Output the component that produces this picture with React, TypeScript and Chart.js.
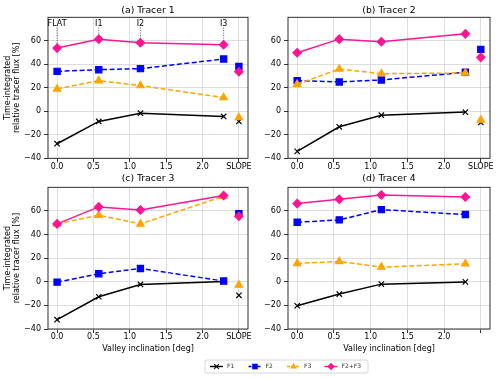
import React, { useEffect, useRef } from 'react';
import { Chart, registerables } from 'chart.js';

Chart.register(...registerables);

const FONT = "'DejaVu Sans', sans-serif";
Chart.defaults.font.family = FONT;
Chart.defaults.color = '#000';

// ---------- data ----------
const POINT_LABELS = ['FLAT', 'I1', 'I2', 'I3'];
const INCLINATIONS = [0, 0.573, 1.146, 2.29];
const SLOPE_POS = 2.5;
const X_TICKS = [0, 0.5, 1, 1.5, 2, 2.5];
const Y_TICKS = [-40, -20, 0, 20, 40, 60];
const SERIES_NAMES = ['F1', 'F2', 'F3', 'F2+F3'];
const PANEL_TITLES = ['(a) Tracer 1', '(b) Tracer 2', '(c) Tracer 3', '(d) Tracer 4'];

// Tracer 1
const T1_F1 = [-27.6, -8.6, -1.6, -4.4];
const T1_F2 = [34.0, 35.4, 36.3, 44.5];
const T1_F3 = [19.0, 26.1, 21.9, 11.7];
const T1_F23 = [53.8, 61.4, 58.3, 56.6];
const T1_SLOPE = [-8.6, 38.2, -5.3, 33.7]; // F1, F2, F3, F2+F3

// Tracer 2
const T2_F1 = [-34.1, -13.2, -3.3, -0.7];
const T2_F2 = [26.1, 25.0, 26.7, 33.2];
const T2_F3 = [23.0, 36.0, 32.0, 32.6];
const T2_F23 = [49.8, 61.4, 59.2, 65.9];
const T2_SLOPE = [-9.5, 52.7, -7.5, 45.9];

// Tracer 3
const T3_F1 = [-32.1, -12.7, -2.3, 0.2];
const T3_F2 = [-0.3, 6.8, 11.3, 0.6];
const T3_F3 = [49.0, 56.3, 49.0, 72.4];
const T3_F23 = [49.0, 63.4, 60.8, 73.0];
const T3_SLOPE = [-11.5, 57.7, -2.8, 55.5];

// Tracer 4
const T4_F1 = [-20.3, -10.4, -2.0, -0.1];
const T4_F2 = [50.4, 52.4, 61.1, 56.9];
const T4_F3 = [15.5, 17.2, 12.4, 15.2];
const T4_F23 = [66.2, 69.9, 73.5, 71.8];
const T4_SLOPE: (number | null)[] = [null, null, null, null];

// ---------- styles ----------
const STYLES = [
  { color: '#000000', dash: [] as number[], point: 'crossRot', radius: 3.8 },
  { color: '#0000ff', dash: [5, 2.5], point: 'rect', radius: 4.4 },
  { color: '#ffa500', dash: [5, 2.5], point: 'triangle', radius: 4.3 },
  { color: '#ff1493', dash: [] as number[], point: 'rectRot', radius: 4.2 },
];

type Area = { l: number; r: number; t: number; b: number };
type Panel = {
  title: string;
  values: number[][];
  slope: (number | null)[];
  area: Area;
  titleY: number;
  yTitle: boolean;
  xTitle: boolean;
  slopeLabel: boolean;
  annotate: boolean;
  legend: boolean;
};

const PANELS: Panel[] = [
  {
    title: PANEL_TITLES[0], values: [T1_F1, T1_F2, T1_F3, T1_F23], slope: T1_SLOPE,
    area: { l: 48, r: 248, t: 17.3, b: 158.3 }, titleY: 10.8,
    yTitle: true, xTitle: false, slopeLabel: true, annotate: true, legend: false,
  },
  {
    title: PANEL_TITLES[1], values: [T2_F1, T2_F2, T2_F3, T2_F23], slope: T2_SLOPE,
    area: { l: 288, r: 490, t: 17.3, b: 158.3 }, titleY: 10.8,
    yTitle: false, xTitle: false, slopeLabel: true, annotate: false, legend: false,
  },
  {
    title: PANEL_TITLES[2], values: [T3_F1, T3_F2, T3_F3, T3_F23], slope: T3_SLOPE,
    area: { l: 48, r: 248, t: 187.3, b: 329 }, titleY: 179,
    yTitle: true, xTitle: true, slopeLabel: true, annotate: false, legend: false,
  },
  {
    title: PANEL_TITLES[3], values: [T4_F1, T4_F2, T4_F3, T4_F23], slope: T4_SLOPE,
    area: { l: 288, r: 490, t: 187.3, b: 329 }, titleY: 179,
    yTitle: false, xTitle: true, slopeLabel: false, annotate: false, legend: true,
  },
];

const ANNOT_TEXT_Y = 74.3; // data units
const ANNOT_LINE_TOP = 71.2; // data units

function drawMarker(ctx: CanvasRenderingContext2D, style: string, x: number, y: number, r: number, color: string) {
  ctx.save();
  ctx.fillStyle = color;
  ctx.strokeStyle = color;
  ctx.lineWidth = 1.1;
  ctx.beginPath();
  if (style === 'crossRot') {
    const d = r * Math.SQRT1_2;
    ctx.moveTo(x - d, y - d); ctx.lineTo(x + d, y + d);
    ctx.moveTo(x - d, y + d); ctx.lineTo(x + d, y - d);
    ctx.stroke();
  } else if (style === 'rect') {
    const s = r * Math.SQRT1_2;
    ctx.rect(x - s, y - s, 2 * s, 2 * s);
    ctx.fill();
  } else if (style === 'triangle') {
    ctx.moveTo(x, y - r);
    ctx.lineTo(x + r * Math.sin(2 * Math.PI / 3), y - r * Math.cos(2 * Math.PI / 3));
    ctx.lineTo(x + r * Math.sin(4 * Math.PI / 3), y - r * Math.cos(4 * Math.PI / 3));
    ctx.closePath();
    ctx.fill();
  } else {
    ctx.moveTo(x - r, y); ctx.lineTo(x, y - r); ctx.lineTo(x + r, y); ctx.lineTo(x, y + r);
    ctx.closePath();
    ctx.fill();
  }
  ctx.restore();
}

function makeConfig(p: Panel): any {
  const datasets: any[] = [];
  STYLES.forEach((s, k) => {
    const common = {
      borderColor: s.color,
      backgroundColor: s.color,
      pointStyle: s.point,
      pointRadius: s.radius,
      pointBorderWidth: 1.2,
      pointBackgroundColor: s.color,
      pointBorderColor: s.color,
      order: 3 - k,
      clip: false,
    };
    datasets.push({
      ...common,
      label: SERIES_NAMES[k],
      data: INCLINATIONS.map((x, i) => ({ x, y: p.values[k][i] })),
      borderWidth: 1.5,
      borderDash: s.dash,
      showLine: true,
    });
    const sv = p.slope[k];
    if (sv !== null && sv !== undefined) {
      datasets.push({
        ...common,
        label: SERIES_NAMES[k] + ' SLOPE',
        data: [{ x: SLOPE_POS, y: sv }],
        showLine: false,
      });
    }
  });

  const padLeft = p.area.l < 250 ? 0 : 250;
  const xh = p.xTitle ? 30 : 20;

  const panelPlugin = {
    id: 'panelDeco',
    beforeDatasetsDraw(chart: any) {
      if (!p.annotate) return;
      const { ctx, scales } = chart;
      ctx.save();
      ctx.strokeStyle = '#444';
      ctx.lineWidth = 0.9;
      ctx.setLineDash([1, 1.5]);
      INCLINATIONS.forEach((xv, i) => {
        const px = scales.x.getPixelForValue(xv);
        const top = Math.max(...p.values.map((s) => s[i]));
        ctx.beginPath();
        ctx.moveTo(px, scales.y.getPixelForValue(ANNOT_LINE_TOP));
        ctx.lineTo(px, scales.y.getPixelForValue(top));
        ctx.stroke();
      });
      ctx.restore();
    },
    afterDatasetsDraw(chart: any) {
      const { ctx, chartArea } = chart;
      ctx.save();
      ctx.strokeStyle = '#1a1a1a';
      ctx.lineWidth = 0.9;
      ctx.strokeRect(chartArea.left, chartArea.top, chartArea.right - chartArea.left, chartArea.bottom - chartArea.top);
      ctx.restore();
    },
    afterDraw(chart: any) {
      const { ctx, chartArea, scales } = chart;
      ctx.save();
      ctx.fillStyle = '#000';
      ctx.font = `9.3px ${FONT}`;
      ctx.textAlign = 'center';
      ctx.textBaseline = 'middle';
      ctx.fillText(p.title, (chartArea.left + chartArea.right) / 2, p.titleY);
      if (p.annotate) {
        ctx.font = `8px ${FONT}`;
        INCLINATIONS.forEach((xv, i) => {
          ctx.fillText(POINT_LABELS[i], scales.x.getPixelForValue(xv), scales.y.getPixelForValue(ANNOT_TEXT_Y));
        });
      }
      if (p.legend) {
        const bx = 205, by = 360, bw = 163, bh = 13;
        ctx.fillStyle = 'rgba(255,255,255,0.8)';
        ctx.strokeStyle = '#cccccc';
        ctx.lineWidth = 0.8;
        ctx.beginPath();
        (ctx as any).roundRect ? (ctx as any).roundRect(bx, by, bw, bh, 2) : ctx.rect(bx, by, bw, bh);
        ctx.fill();
        ctx.stroke();
        const starts = [210, 248.5, 287, 324.5];
        const cy = by + bh / 2;
        STYLES.forEach((s, k) => {
          const x0 = starts[k];
          ctx.save();
          ctx.strokeStyle = s.color;
          ctx.lineWidth = 1.4;
          ctx.setLineDash(s.dash.length ? [3, 1.5] : []);
          ctx.beginPath();
          ctx.moveTo(x0, cy);
          ctx.lineTo(x0 + 13, cy);
          ctx.stroke();
          ctx.restore();
          drawMarker(ctx, s.point, x0 + 6.5, cy, s.radius * 0.9, s.color);
          ctx.fillStyle = '#333';
          ctx.font = `6px ${FONT}`;
          ctx.textAlign = 'left';
          ctx.textBaseline = 'middle';
          ctx.fillText(SERIES_NAMES[k], x0 + 17, cy + 0.3);
        });
      }
      ctx.restore();
    },
  };

  return {
    type: 'line',
    data: { datasets },
    options: {
      animation: false,
      responsive: false,
      devicePixelRatio: 1,
      events: [],
      layout: {
        padding: {
          left: padLeft,
          top: p.area.t,
          right: 500 - p.area.r,
          bottom: 378 - p.area.b - xh,
        },
      },
      plugins: { legend: { display: false }, tooltip: { enabled: false }, title: { display: false } },
      scales: {
        x: {
          type: 'linear',
          min: -0.125,
          max: 2.625,
          afterBuildTicks: (s: any) => { s.ticks = X_TICKS.map((v) => ({ value: v })); },
          afterFit: (s: any) => { s.height = xh; },
          ticks: {
            autoSkip: false,
            maxRotation: 0,
            minRotation: 0,
            padding: 0,
            color: '#000',
            font: { size: 8, lineHeight: 1.1 },
            callback: (v: any) => {
              const n = Number(v);
              if (n === SLOPE_POS) return p.slopeLabel ? 'SLOPE' : '';
              return n.toFixed(1);
            },
          },
          grid: {
            color: '#d4d4d4',
            lineWidth: 0.8,
            borderDash: [1, 2],
            tickColor: '#000',
            tickLength: 4,
            tickWidth: 0.8,
            tickBorderDash: [],
          },
          border: { display: false },
          title: {
            display: p.xTitle,
            text: 'Valley inclination [deg]',
            color: '#000',
            font: { size: 8 },
            padding: { top: 0, bottom: 5 },
          },
        },
        y: {
          type: 'linear',
          min: -40,
          max: 80,
          afterBuildTicks: (s: any) => { s.ticks = Y_TICKS.map((v) => ({ value: v })); },
          afterFit: (s: any) => { s.width = p.area.l - padLeft; },
          ticks: {
            padding: 3,
            color: '#000',
            font: { size: 8, lineHeight: 1.1 },
            callback: (v: any) => {
              const n = Number(v);
              return n < 0 ? '\u2212' + Math.abs(n) : String(n);
            },
          },
          grid: {
            color: '#d4d4d4',
            lineWidth: 0.8,
            borderDash: [1, 2],
            tickColor: '#000',
            tickLength: 4,
            tickWidth: 0.8,
            tickBorderDash: [],
          },
          border: { display: false },
          title: {
            display: p.yTitle,
            text: ['Time-integrated', 'relative tracer flux [%]'],
            color: '#000',
            font: { size: 8, lineHeight: 1.15 },
            padding: { top: 3, bottom: 0 },
          },
        },
      },
    },
    plugins: [panelPlugin],
  };
}

function PanelChart({ panel }: { panel: Panel }) {
  const ref = useRef<HTMLCanvasElement>(null);
  useEffect(() => {
    if (!ref.current) return;
    const chart = new Chart(ref.current, makeConfig(panel));
    return () => chart.destroy();
  }, [panel]);
  return (
    <canvas
      ref={ref}
      width={500}
      height={378}
      style={{ position: 'absolute', left: 0, top: 0, width: 500, height: 378 }}
    />
  );
}

export default function App() {
  return (
    <div style={{ position: 'fixed', left: 0, top: 0, width: 500, height: 378, background: '#fff' }}>
      {PANELS.map((p) => (
        <PanelChart key={p.title} panel={p} />
      ))}
    </div>
  );
}
